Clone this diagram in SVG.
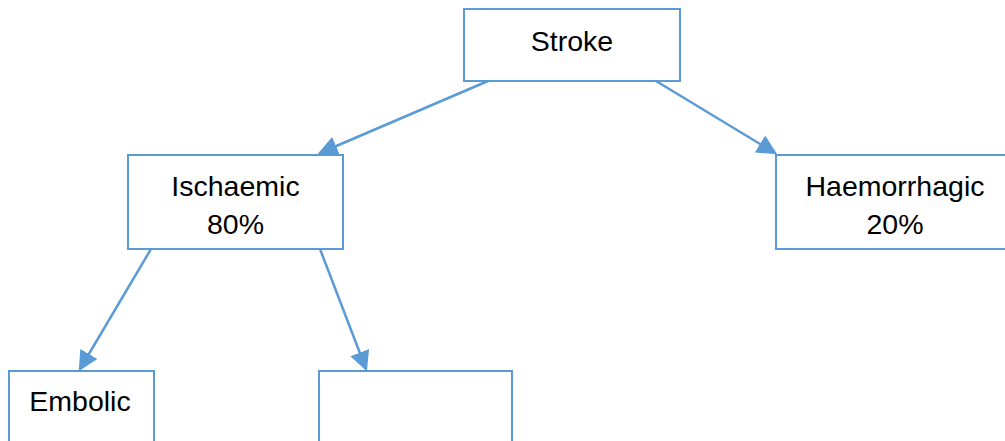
<svg xmlns="http://www.w3.org/2000/svg" width="1005" height="441" viewBox="0 0 1005 441">
<style>
.box{fill:#fff;stroke:#5B9BD5;stroke-width:2}
.lbl{font-family:"Liberation Sans",Arial,sans-serif;font-size:28.5px;fill:#000;text-anchor:middle}
.con{stroke:#5B9BD5;stroke-width:2.5;fill:none;marker-end:url(#ah)}
</style>
<defs>
<marker id="ah" markerWidth="8" markerHeight="8" refX="7" refY="4" orient="auto" markerUnits="strokeWidth">
<path d="M0,0 L8,4 L0,8 z" fill="#5B9BD5"/>
</marker>
</defs>
<rect width="1005" height="441" fill="#fff"/>
<g id="connectors">
<line class="con" x1="488" y1="81" x2="320" y2="153"/>
<line class="con" x1="656" y1="81" x2="775" y2="153"/>
<line class="con" x1="151" y1="249" x2="80" y2="369"/>
<line class="con" x1="320" y1="249" x2="366" y2="369"/>
</g>
<g id="stroke"><rect class="box" x="464" y="9" width="216" height="72"/><text class="lbl" x="572" y="51">Stroke</text></g>
<g id="ischaemic"><rect class="box" x="128" y="155" width="215" height="94"/><text class="lbl" x="235.5" y="196">Ischaemic</text><text class="lbl" x="235.5" y="234">80%</text></g>
<g id="haemorrhagic"><rect class="box" x="776" y="155" width="240" height="94"/><text class="lbl" x="895" y="196">Haemorrhagic</text><text class="lbl" x="895" y="234">20%</text></g>
<g id="embolic"><rect class="box" x="9" y="371" width="145" height="90"/><text class="lbl" x="80" y="411">Embolic</text></g>
<g id="blank"><rect class="box" x="319" y="371" width="193" height="90"/></g>
</svg>
